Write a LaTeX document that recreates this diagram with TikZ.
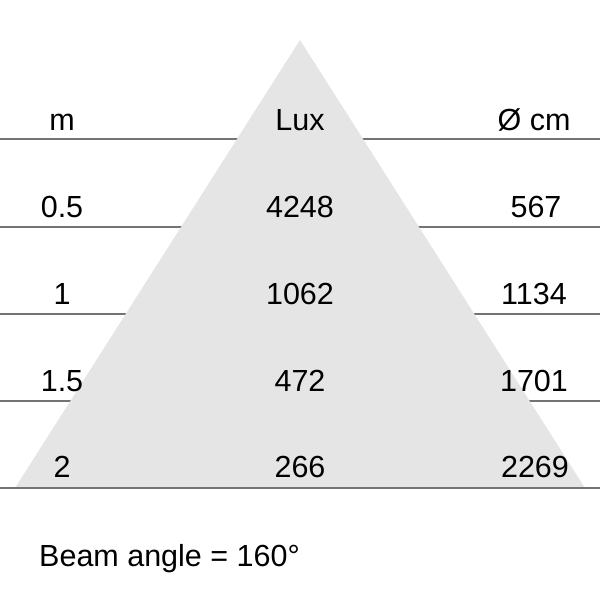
\documentclass[tikz,border=0pt]{standalone}
\usepackage{fontspec}
\setmainfont{Liberation Sans}
\begin{document}
\begin{tikzpicture}[x=1pt,y=-1pt,
  rule/.style={draw=black!55, line width=2pt},
  cell/.style={anchor=base, inner sep=0pt, font=\fontsize{30.5}{36}\selectfont},
  beam/.style={fill=black!10, draw=none}]
\useasboundingbox (0,0) rectangle (600,592);
\fill[white] (0,0) rectangle (600,592);
% rules
\foreach \y/\n in {139/r1,227/r2,314/r3,401/r4} {
  \coordinate (\n L) at (0,\y); \coordinate (\n R) at (600,\y);
  \draw[rule] (\n L) -- (\n R);
}
% beam triangle
\coordinate (apex) at (300,40);
\coordinate (bl) at (15,488);
\coordinate (br) at (585,488);
\path[beam] (apex) -- (bl) -- (br) -- cycle;
\coordinate (r5L) at (0,488); \coordinate (r5R) at (600,488);
\draw[rule] (r5L) -- (r5R);
% header
\node[cell] (hm) at (62,130) {m};
\node[cell] (hlux) at (300,130) {Lux};
\node[cell] (hcm) at (534,130) {Ø cm};
% rows
\node[cell] (m1) at (62,217) {0.5};
\node[cell] (l1) at (300,217) {4248};
\node[cell] (c1) at (536,217) {567};
\node[cell] (m2) at (62,304) {1};
\node[cell] (l2) at (300,304) {1062};
\node[cell] (c2) at (534,304) {1134};
\node[cell] (m3) at (62,391) {1.5};
\node[cell] (l3) at (300,391) {472};
\node[cell] (c3) at (534,391) {1701};
\node[cell] (m4) at (62,477) {2};
\node[cell] (l4) at (300,477) {266};
\node[cell] (c4) at (535,477) {2269};
\node[cell, anchor=base west] (angle) at (39,566) {Beam angle = 160°};
\end{tikzpicture}
\end{document}
